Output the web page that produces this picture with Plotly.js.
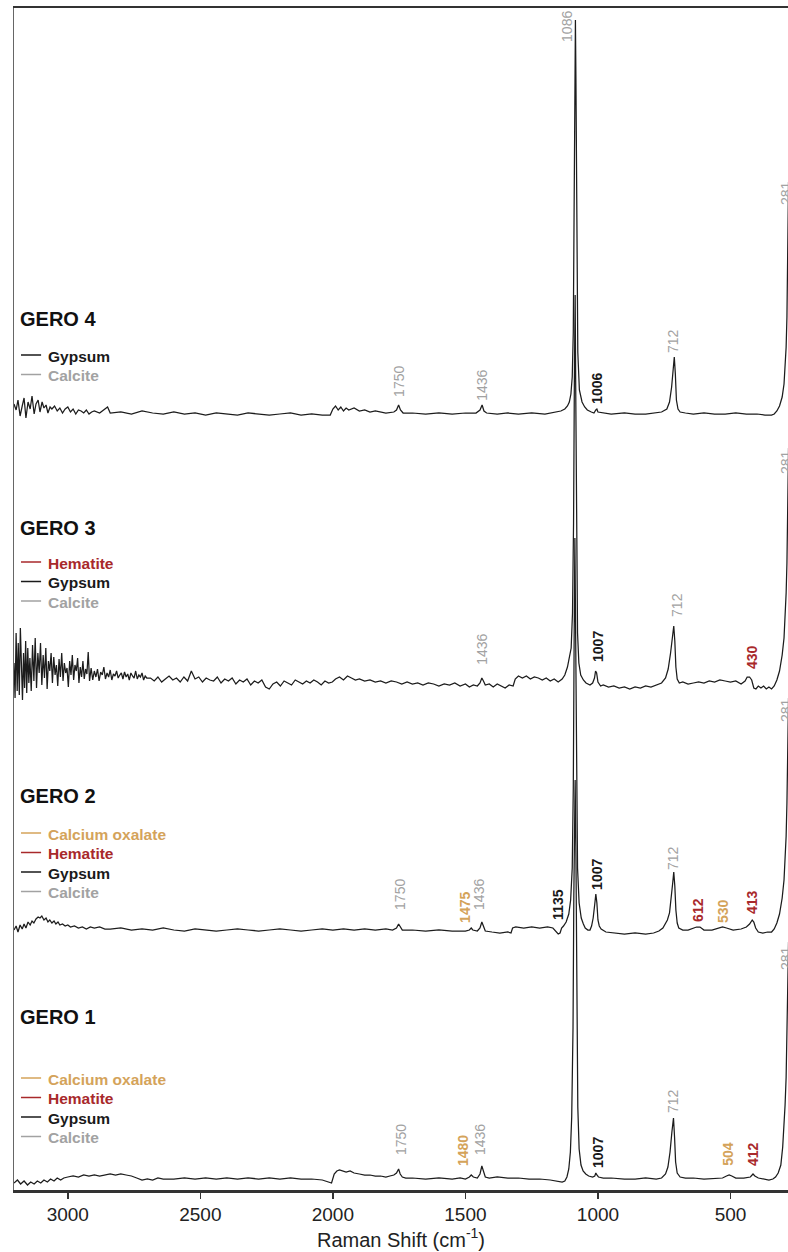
<!DOCTYPE html>
<html><head><meta charset="utf-8">
<script src="https://cdn.plot.ly/plotly-3.0.1.min.js"></script>
<style>html,body{margin:0;padding:0;background:#fff;}#chart{width:788px;height:1252px;}</style>
</head><body><div id="chart"></div>
<script>
// ---------------- DATA ----------------
const sampleNames = ['GERO 1', 'GERO 2', 'GERO 3', 'GERO 4'];
const offsets = [13, 262, 507, 778]; // vertical stacking offsets (a.u.)

const g1Wn = [3203,3190,3178,3165,3152,3140,3127,3115,3102,3090,3077,3065,3052,3040,3027,3015,3000,2980,2960,2940,2920,2900,2880,2860,2840,2820,2800,2780,2760,2740,2720,2700,2680,2660,2640,2600,2560,2520,2480,2440,2400,2360,2320,2280,2240,2200,2160,2120,2080,2040,2015,2005,1995,1985,1975,1965,1950,1935,1920,1900,1880,1860,1840,1820,1800,1785,1770,1760,1752,1746,1738,1725,1700,1650,1600,1550,1520,1500,1485,1478,1470,1455,1445,1438,1432,1425,1410,1380,1340,1300,1260,1220,1180,1150,1135,1125,1117,1110,1104,1099,1094,1091,1088,1086,1083,1080,1076,1071,1064,1056,1046,1035,1020,1012,1008,1004,998,980,950,900,860,820,780,760,745,736,728,721,715,711,707,701,690,670,640,600,560,530,515,505,495,480,450,425,415,408,395,375,355,340,330,320,310,303,298,294,290,287,285,283,281];
const g1Int = [-6,-3,-7,-4,-8,-5,-7,-4,-6,-3,-5,-2,-4,-1,-3,-1,0,1,0,2,1,2,1,2,3,2,3,2,1,-1,-3,-2,-3,-1,-2,-2,-1,-2,-1,-2,-1,-2,-1,-2,-1,-2,-1,-2,-2,-3,-5,-6,3,6,7,6,5,6,4,3,2,2,1,1,0,1,2,4,8,3,0,-1,-1,-2,-1,-2,-1,-2,0,2,0,-1,3,11,5,0,-1,0,-1,-1,-2,-2,-3,-4,-5,-4,0,8,25,60,150,280,370,397,320,180,70,28,12,6,3,1,0,1,4,2,0,-1,-1,-2,-2,-1,-2,-1,3,10,25,45,59,40,15,4,0,-1,-1,-2,-1,-1,1,2,1,-1,-1,0,3,1,-1,-2,-3,-2,0,4,12,30,50,72,100,135,170,207,235];

const g2Wn = [3203,3195,3188,3180,3172,3165,3158,3150,3142,3135,3128,3120,3112,3105,3098,3090,3082,3075,3068,3060,3052,3045,3037,3030,3020,3010,3000,2990,2975,2960,2945,2930,2915,2900,2880,2860,2840,2800,2760,2720,2680,2640,2600,2560,2520,2480,2440,2400,2360,2320,2280,2240,2200,2160,2120,2080,2040,2000,1960,1920,1880,1840,1800,1775,1760,1752,1746,1738,1700,1650,1600,1550,1500,1485,1478,1472,1455,1445,1438,1432,1425,1400,1370,1340,1328,1322,1310,1280,1250,1220,1190,1170,1160,1150,1143,1137,1130,1120,1110,1103,1097,1093,1090,1087,1084,1081,1077,1071,1063,1055,1048,1038,1030,1024,1018,1012,1008,1004,1000,995,988,970,940,900,860,820,790,770,755,745,738,730,723,718,714,710,706,701,695,680,660,640,628,615,600,570,545,530,515,490,460,440,428,418,412,405,395,378,360,345,335,325,315,305,298,294,290,287,285,283,281];
const g2Int = [-2,2,-4,3,-1,4,0,6,3,7,5,9,11,10,12,8,10,6,8,5,7,4,6,3,4,2,3,1,2,0,1,-1,1,0,1,-1,-1,0,-2,-1,-2,0,-2,-3,-1,-2,-3,-2,-1,-2,-3,-2,-1,-2,-3,-2,-1,-2,-1,-2,-1,-2,-1,-2,0,4,1,-2,-2,-3,-2,-3,-3,-2,0,-2,-3,0,6,1,-3,-4,-5,-4,-5,0,1,0,1,0,1,0,-3,-6,-5,0,2,6,14,28,60,140,280,390,290,150,60,25,10,4,0,-2,-2,2,10,24,34,25,8,2,-1,-4,-5,-6,-5,-6,-5,-3,0,4,8,15,30,45,56,42,18,5,0,-2,-2,0,1,1,-2,-2,0,1,0,-2,-1,1,4,8,6,0,-4,-5,-4,-4,-1,5,14,30,48,68,92,125,160,203,230];

const g3Wn = [3203,3199,3195,3191,3187,3183,3179,3175,3171,3167,3163,3159,3155,3151,3147,3143,
  3138,3133,3128,3123,3118,3113,3108,3103,3098,3093,3088,3083,3078,3073,3068,3063,3058,3053,3048,3043,3038,3033,3028,3023,3018,3013,3008,3003,2998,2993,2988,2983,2978,2973,2968,2963,2958,2953,2948,2943,2938,2933,2928,2923,2918,
  2912,2906,2900,2894,2888,2882,2876,2870,2864,2858,2852,2846,2840,2834,2828,2822,2816,2810,2804,2798,2792,2786,2780,2774,2768,2762,2756,2750,2744,2738,2732,2726,2720,2714,2708,2702,
  2688,2674,2660,2646,2632,2618,2604,2590,2576,2562,2548,2534,2520,2506,2492,2478,2464,2450,2436,2422,2408,2394,2380,2366,2352,2338,2324,2310,2296,2282,2268,2254,2240,2226,2212,2198,2184,2170,2156,2142,2128,2114,2100,2086,2072,2058,2044,2030,2016,2002,
  1990,1975,1960,1945,1930,1915,1900,1880,1860,1840,1820,1800,1780,1760,1740,1720,1700,1680,1660,1640,1620,1600,1580,1560,1540,1520,1500,1485,1470,1455,1445,1438,1432,1425,1410,1395,1380,1365,1350,1335,1320,1312,1300,1285,1270,1255,1240,1225,1210,1195,1180,1165,1150,1135,1125,1115,1108,1101,1096,1092,1089,1086,1084,1081,1077,1072,1065,1055,1045,1030,1020,1013,1009,1005,1000,990,980,960,940,920,900,880,860,840,820,800,780,760,745,735,726,719,714,710,706,701,693,680,660,640,620,600,580,560,540,520,500,480,460,445,437,428,420,412,404,395,385,375,365,355,345,335,325,315,305,298,294,290,287,285,283,281];
const g3Int = [20,-15,50,-8,40,-12,55,5,-17,30,-5,42,-10,35,0,25,
  -8,38,2,45,-5,30,10,40,-2,28,5,35,-6,22,12,30,0,26,8,18,-3,24,6,30,2,20,10,15,-4,22,8,28,3,18,12,25,0,16,6,22,4,14,9,31,2,
  15,3,12,6,14,2,11,8,16,4,10,6,13,3,9,7,12,5,8,10,4,11,6,9,3,10,7,5,12,4,8,6,10,3,7,5,
  5,2,6,1,4,7,3,5,1,6,2,12,4,6,1,5,3,2,6,0,4,2,5,-1,3,1,4,-2,2,0,3,-4,-6,-1,1,-3,2,0,-2,3,1,-1,2,0,3,1,-2,2,0,1,
  4,6,3,7,5,3,4,2,3,1,2,0,2,1,-1,1,-1,0,-2,0,-1,-3,-1,-2,0,-3,-1,-4,-2,-3,0,5,2,-2,-1,-4,-1,-3,-5,-2,-3,4,7,5,7,4,6,5,3,5,2,4,1,4,8,16,24,35,70,160,300,388,300,150,50,20,8,3,0,-2,0,5,12,10,1,-3,-2,-4,-3,-5,-4,-6,-4,-5,-3,-4,-2,0,5,14,30,48,57,42,16,4,0,1,-1,0,1,0,2,1,3,2,1,2,-1,2,6,6,3,-5,-6,-3,-5,-3,-6,-4,-6,-3,3,12,28,45,65,90,120,160,208,235];

const g4Wn = [3203,3195,3188,3180,3172,3165,3158,3150,3142,3135,3127,3120,3112,3105,3097,3090,3082,3075,3067,3060,3050,3040,3030,3020,3010,3000,2990,2980,2970,2960,2950,2940,2930,2920,2910,2900,2880,2850,2840,2800,2760,2720,2680,2640,2600,2560,2520,2480,2440,2400,2360,2320,2280,2240,2200,2160,2120,2080,2040,2010,2000,1990,1980,1970,1960,1950,1940,1920,1900,1880,1860,1840,1800,1770,1760,1752,1745,1735,1700,1650,1600,1550,1500,1460,1445,1437,1430,1420,1380,1340,1300,1250,1200,1160,1140,1125,1115,1108,1102,1097,1093,1090,1087,1085,1083,1080,1076,1070,1060,1050,1040,1025,1015,1008,1004,1000,980,950,900,860,820,780,760,740,730,722,716,712,708,704,698,690,670,640,600,560,520,480,440,400,370,345,335,325,315,305,298,294,290,287,285,283,281];
const g4Int = [8,2,12,-4,6,14,-6,10,3,16,-2,8,12,0,10,4,7,-1,5,3,6,1,4,-1,3,5,0,3,-2,2,1,-1,2,-2,0,1,-1,5,-1,0,-2,1,-1,-2,0,-2,-1,-3,-1,-2,-3,-1,-2,-3,-2,-1,-3,-2,-3,-3,3,6,2,5,1,4,2,4,1,2,0,1,-1,0,2,7,2,-1,-1,-2,-1,-2,-1,-1,2,7,1,-1,-2,-1,-2,-1,-2,0,1,3,6,10,18,35,80,200,330,392,330,180,60,22,10,5,2,0,-1,2,3,0,-1,-2,-1,-2,-2,-1,0,3,10,25,45,55,38,12,3,0,-1,-2,-1,-2,-2,-1,-2,-2,-3,-3,-2,1,6,15,28,45,65,95,140,205,230];

const xTickVals = [3000, 2500, 2000, 1500, 1000, 500];
const mineralNames = ['Calcium oxalate', 'Hematite', 'Gypsum', 'Calcite'];
const mineralColors = ['#d4a35a', '#a8292b', '#1a1a1a', '#a2a2a2'];
const sampleMinerals = [[0, 1, 2, 3], [0, 1, 2, 3], [1, 2, 3], [2, 3]];

// peak labels: [sample index, label text, mineral index]
const peakTexts = [
  [3,'1750',3],[3,'1436',3],[3,'1086',3],[3,'1006',2],[3,'712',3],[3,'281',3],
  [2,'1436',3],[2,'1007',2],[2,'712',3],[2,'430',1],[2,'281',3],
  [1,'1750',3],[1,'1475',0],[1,'1436',3],[1,'1135',2],[1,'1007',2],[1,'712',3],[1,'612',1],[1,'530',0],[1,'413',1],[1,'281',3],
  [0,'1750',3],[0,'1480',0],[0,'1436',3],[0,'1007',2],[0,'712',3],[0,'504',0],[0,'412',1],[0,'281',3]
];

// ---------------- LAYOUT HELPERS ----------------
// label placement (x in cm-1, y in stacked a.u.)
const peakPos = [
  [1751,809],[1438,805],[1117,1164],[1004,802],[717,849],[null,997],
  [1438,541],[1000,544],[702,585],[419,533],[null,728],
  [1747,296],[1502,283],[1449,296],[1151,286],[1004,316],[717,332],[623,280],[528,279],[419,288],[null,480],
  [1743,50],[1509,39],[1445,51],[1000,38],[717,89],[510,36],[415,36],[null,232]
];
const titleY = [173, 394, 662, 871];
const firstEntryY = [111, 356, 627, 834];
const entryStep = 19.5;

const wns = [g1Wn, g2Wn, g3Wn, g4Wn];
const ints = [g1Int, g2Int, g3Int, g4Int];

const traces = wns.map((w, i) => ({
  type: 'scatter', mode: 'lines', name: sampleNames[i],
  x: w, y: ints[i].map(v => v + offsets[i]),
  line: {color: '#1c1c1c', width: 1.25}, hoverinfo: 'skip', showlegend: false
}));

const FONT = 'Liberation Sans, Arial, Helvetica, sans-serif';
const annotations = [];
const shapes = [];

peakTexts.forEach((p, k) => {
  const [s, txt, m] = p;
  const pos = peakPos[k];
  const bold = m !== 3;
  const a = {
    text: bold ? '<b>' + txt + '</b>' : txt,
    textangle: -90, showarrow: false,
    yref: 'y', y: pos[1],
    xanchor: 'center', yanchor: 'middle',
    font: {family: FONT, size: 14, color: mineralColors[m]}
  };
  if (pos[0] === null) { a.xref = 'paper'; a.x = 1; a.xshift = -2; }
  else { a.xref = 'x'; a.x = pos[0]; }
  annotations.push(a);
});

sampleNames.forEach((nm, s) => {
  annotations.push({
    text: '<b>' + nm + '</b>', xref: 'paper', yref: 'y', x: 0.005, y: titleY[s],
    xanchor: 'left', yanchor: 'middle', showarrow: false,
    font: {family: FONT, size: 20, color: '#111'}
  });
  sampleMinerals[s].forEach((m, j) => {
    const yy = firstEntryY[s] - j * entryStep;
    annotations.push({
      text: '<b>' + mineralNames[m] + '</b>', xref: 'paper', yref: 'y', x: 0.041, y: yy,
      xanchor: 'left', yanchor: 'middle', showarrow: false,
      font: {family: FONT, size: 15.5, color: mineralColors[m]}
    });
    shapes.push({type: 'line', xref: 'paper', yref: 'y', x0: 0.009, x1: 0.035, y0: yy + 1, y1: yy + 1,
      line: {color: mineralColors[m], width: 1.5}});
  });
});

const layout = {
  width: 788, height: 1252,
  margin: {l: 14, r: 0, t: 8, b: 62},
  paper_bgcolor: '#fff', plot_bgcolor: '#fff',
  showlegend: false,
  font: {family: FONT, color: '#222'},
  xaxis: {
    range: [3203, 283], tickvals: xTickVals, ticks: 'outside', ticklen: 6, tickwidth: 1.5, tickcolor: '#333',
    showline: true, linewidth: 2.5, linecolor: '#333', mirror: true, showgrid: false, zeroline: false,
    tickfont: {family: FONT, size: 19, color: '#222'},
    title: {text: 'Raman Shift (cm<sup>-1</sup>)', font: {family: FONT, size: 20, color: '#222'}, standoff: 6}
  },
  yaxis: {
    range: [0, 1182], showticklabels: false, ticks: '', showgrid: false, zeroline: false,
    showline: true, linewidth: 1, linecolor: '#666'
  },
  annotations: annotations, shapes: shapes
};

Plotly.newPlot('chart', traces, layout, {staticPlot: true, displayModeBar: false});
</script></body></html>
